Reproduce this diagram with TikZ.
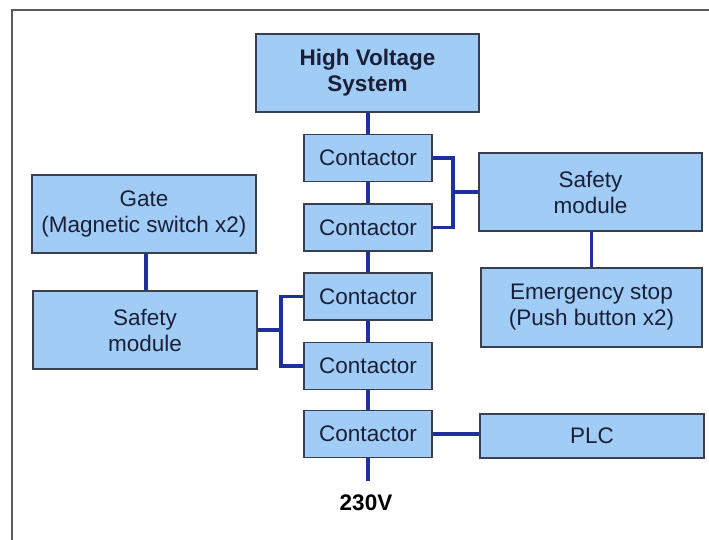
\documentclass[tikz,border=0pt]{standalone}
\usepackage{fontspec}
\setmainfont{Liberation Sans}
\definecolor{boxfill}{HTML}{A0CCF6}
\definecolor{boxdraw}{HTML}{3A3F4F}
\definecolor{wire}{HTML}{1E2F9E}
\definecolor{txt}{HTML}{1A1F38}
\definecolor{framec}{HTML}{5A5A5A}
\tikzset{
  box/.style={draw=boxdraw, fill=boxfill, line width=1.4bp, inner sep=0pt,
    align=center, text=txt, font=\fontsize{22.5bp}{26bp}\selectfont},
  contactor/.style={box, minimum width=128bp, minimum height=47bp},
  bigbox/.style={box, minimum width=223bp, minimum height=78bp},
  wireline/.style={draw=wire, line width=3.3bp},
}
\begin{document}
\begin{tikzpicture}[x=1bp,y=-1bp]
\useasboundingbox (0,0) rectangle (709,540);
\draw[framec, line width=1.5bp] (12,540) -- (12,10) -- (709,10);

\coordinate (jr) at (453,192);
\coordinate (jl) at (281,330);
\coordinate (vend) at (368,481);

\node[contactor] (c1) at (368,158) {Contactor};
\node[contactor] (c2) at (368,227.5) {Contactor};
\node[contactor] (c3) at (368,296.5) {Contactor};
\node[contactor] (c4) at (368,366) {Contactor};
\node[contactor] (c5) at (368,434) {Contactor};

\begin{scope}[on background layer/.style={}]
\end{scope}

\node[bigbox, font=\bfseries\fontsize{22.5bp}{26bp}\selectfont] (hv) at (367.5,73) {High Voltage\\System};
\node[bigbox] (sr) at (590.5,192) {Safety\\module};
\node[bigbox, minimum width=221bp, minimum height=79bp] (es) at (591.5,307.5) {Emergency stop\\(Push button x2)};
\node[bigbox, minimum width=224bp] (gate) at (144,214) {Gate\\(Magnetic switch x2)};
\node[bigbox, minimum width=224bp] (sl) at (145,330) {Safety\\module};
\node[box, minimum width=224bp, minimum height=44bp] (plc) at (592,436) {PLC};
\node[text=black, font=\bfseries\fontsize{22.5bp}{26bp}\selectfont] (v230) at (366,503) {230V};

\draw[wireline] (hv.south -| c1.north) -- (c1.north);
\draw[wireline] (c1) -- (c2);
\draw[wireline] (c2) -- (c3);
\draw[wireline] (c3) -- (c4);
\draw[wireline] (c4) -- (c5);
\draw[wireline] (c5.south) -- (vend);
\draw[wireline] (c1.east) -| (jr) |- (c2.east);
\draw[wireline] (jr) -- (sr.west);
\draw[wireline] (c3.west) -| (jl) |- (c4.west);
\draw[wireline] (sl.east) -- (jl);
\draw[wireline] (gate.south -| 146,0) -- (sl.north -| 146,0);
\draw[wireline] (sr.south -| es.north) -- (es.north);
\draw[wireline] (c5.east) -- (c5.east -| plc.west);
\end{tikzpicture}
\end{document}
